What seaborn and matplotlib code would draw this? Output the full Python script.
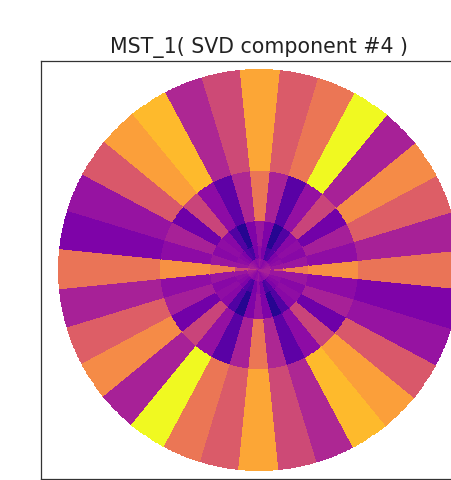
import numpy as np
import matplotlib
matplotlib.use("Agg")
import matplotlib.pyplot as plt
import seaborn as sns

# Ring boundaries (unit disc, inner to outer) and 32 angular sectors,
# sector k centred on k * 11.25 degrees, counter-clockwise from +x.
ring_edges = [0.0, 0.0625, 0.125, 0.25, 0.5, 1.0]
n_sectors = 32

# Component weights per ring, sector 0..31
core = [0.45, 0.37, 0.35, 0.33, 0.31, 0.29, 0.28, 0.30,
        0.33, 0.30, 0.28, 0.29, 0.31, 0.33, 0.35, 0.37,
        0.45, 0.37, 0.35, 0.33, 0.31, 0.29, 0.28, 0.30,
        0.33, 0.30, 0.28, 0.29, 0.31, 0.33, 0.35, 0.37]
ring_4 = [0.50, 0.33, 0.30, 0.28, 0.25, 0.15, 0.12, 0.24,
          0.30, 0.24, 0.12, 0.15, 0.25, 0.28, 0.30, 0.33,
          0.50, 0.33, 0.30, 0.28, 0.25, 0.15, 0.12, 0.24,
          0.30, 0.24, 0.12, 0.15, 0.25, 0.28, 0.30, 0.33]
ring_3 = [0.68, 0.33, 0.28, 0.30, 0.28, 0.14, 0.04, 0.25,
          0.33, 0.25, 0.04, 0.14, 0.28, 0.30, 0.28, 0.33,
          0.68, 0.33, 0.28, 0.30, 0.28, 0.14, 0.04, 0.25,
          0.33, 0.25, 0.04, 0.14, 0.28, 0.30, 0.28, 0.33]
ring_2 = [0.74, 0.30, 0.36, 0.22, 0.49, 0.31, 0.16, 0.37,
          0.66, 0.39, 0.17, 0.29, 0.49, 0.21, 0.37, 0.29,
          0.74, 0.30, 0.36, 0.22, 0.49, 0.31, 0.16, 0.37,
          0.66, 0.39, 0.17, 0.29, 0.49, 0.21, 0.37, 0.29]
ring_1 = [0.65, 0.37, 0.58, 0.72, 0.37, 1.00, 0.66, 0.57,
          0.80, 0.51, 0.39, 0.85, 0.78, 0.56, 0.32, 0.25,
          0.65, 0.37, 0.58, 0.72, 0.37, 1.00, 0.66, 0.57,
          0.80, 0.51, 0.39, 0.85, 0.78, 0.56, 0.32, 0.25]

title = "MST_1( SVD component #4 )"

sns.set_theme(style="white")
plt.rcParams["font.family"] = ["DejaVu Sans"]
cmap = sns.color_palette("plasma", as_cmap=True)

values = np.array([core, ring_4, ring_3, ring_2, ring_1])

# Fine angular mesh so that the wedge edges follow the circle
sub = 24
step = 2 * np.pi / n_sectors
theta = np.linspace(-step / 2, 2 * np.pi - step / 2, n_sectors * sub + 1)
R, T = np.meshgrid(np.array(ring_edges), theta, indexing="ij")
X = R * np.cos(T)
Y = R * np.sin(T)
C = np.repeat(values, sub, axis=1)

fig = plt.figure(figsize=(4.51, 4.80), dpi=100)
ax = fig.add_axes([41 / 451, 1 / 480, 436 / 451, 418 / 480])
ax.pcolormesh(X, Y, C, cmap=cmap, vmin=0.0, vmax=1.0,
              shading="flat", edgecolors="face", linewidth=0.3)
ax.set_xlim(-1.09, 1.09)
ax.set_ylim(-1.045, 1.045)
ax.set_aspect("equal")
ax.set_xticks([])
ax.set_yticks([])
for s in ax.spines.values():
    s.set_color("#333333")
    s.set_linewidth(0.9)
    s.set_visible(True)
ax.set_title(title, fontsize=14.8, pad=6, color="#222222")

fig.savefig("out.png", dpi=100)
